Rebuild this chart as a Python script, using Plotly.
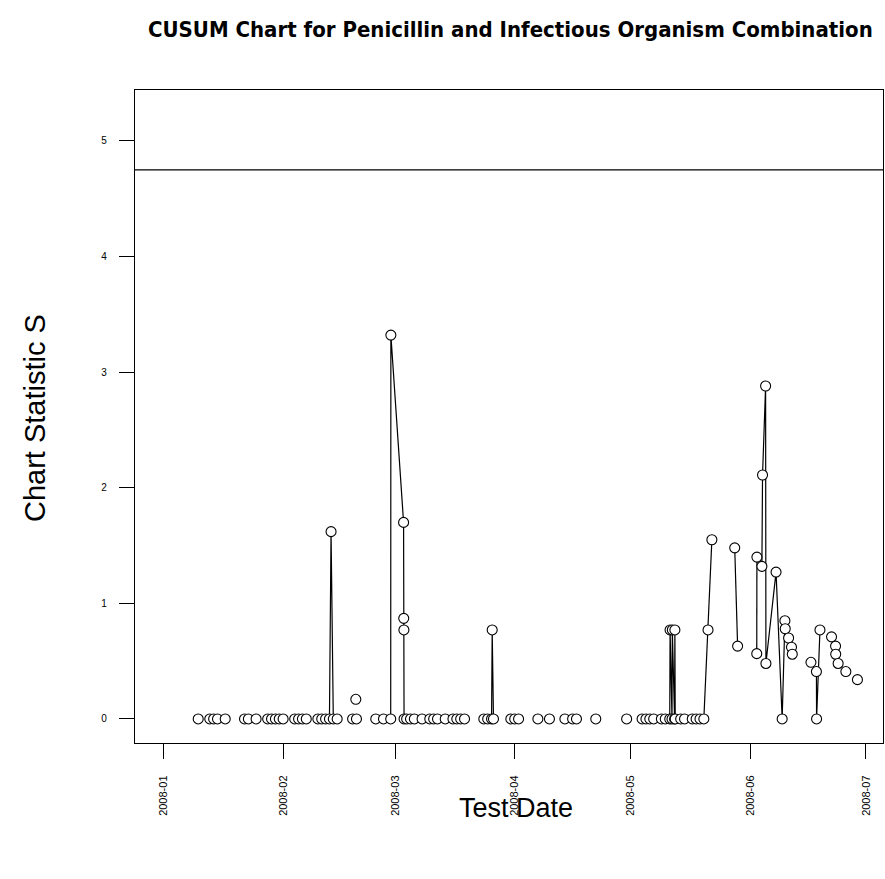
import plotly.graph_objects as go

# ---- data ----
test_dates = [
    "2008-01-10", "2008-01-13", "2008-01-14", "2008-01-15", "2008-01-17",
    "2008-01-22", "2008-01-23", "2008-01-25",
    "2008-01-28", "2008-01-29", "2008-01-30", "2008-01-31", "2008-02-01",
    "2008-02-04", "2008-02-05", "2008-02-06", "2008-02-07",
    "2008-02-10", "2008-02-11", "2008-02-12", "2008-02-13 00:00", "2008-02-13 10:00", "2008-02-14", "2008-02-15",
    "2008-02-19", "2008-02-19 20:00", "2008-02-20",
    "2008-02-25", "2008-02-27", "2008-02-28 21:00", "2008-02-28 22:00",
    "2008-03-03 05:00", "2008-03-03 06:00", "2008-03-03 07:00", "2008-03-03 08:00",
    "2008-03-04", "2008-03-05", "2008-03-06", "2008-03-08",
    "2008-03-10", "2008-03-11", "2008-03-12", "2008-03-14",
    "2008-03-16", "2008-03-17", "2008-03-18", "2008-03-19",
    "2008-03-24", "2008-03-25", "2008-03-26 00:00", "2008-03-26 04:00", "2008-03-26 12:00",
    "2008-03-31", "2008-04-01", "2008-04-02",
    "2008-04-07", "2008-04-10",
    "2008-04-14", "2008-04-16", "2008-04-17",
    "2008-04-22",
    "2008-04-30",
    "2008-05-04", "2008-05-05", "2008-05-06", "2008-05-07", "2008-05-09", "2008-05-10",
    "2008-05-11 04:00", "2008-05-11 06:00", "2008-05-11 18:00", "2008-05-11 20:00",
    "2008-05-12 10:00", "2008-05-12 12:00", "2008-05-12 14:00",
    "2008-05-14", "2008-05-15", "2008-05-17", "2008-05-18", "2008-05-19", "2008-05-20",
    "2008-05-21 02:00", "2008-05-22 02:00",
    "2008-05-28 00:00", "2008-05-28 18:00",
    "2008-06-02 17:00", "2008-06-02 18:00",
    "2008-06-04 01:00", "2008-06-04 05:00", "2008-06-05 00:00", "2008-06-05 02:00",
    "2008-06-07 17:00", "2008-06-09 07:00", "2008-06-10 00:00",
    "2008-06-10 02:00", "2008-06-10 23:00", "2008-06-11 17:00", "2008-06-11 22:00",
    "2008-06-16 18:00", "2008-06-18 04:00", "2008-06-18 05:00", "2008-06-19 02:00",
    "2008-06-22 02:00", "2008-06-23 03:00", "2008-06-23 04:00", "2008-06-23 19:00",
    "2008-06-25 19:00", "2008-06-28 19:00",
]

chart_statistic = [
    0, 0, 0, 0, 0,
    0, 0, 0,
    0, 0, 0, 0, 0,
    0, 0, 0, 0,
    0, 0, 0, 0, 1.62, 0, 0,
    0, 0.17, 0,
    0, 0, 0, 3.32,
    1.70, 0.87, 0.77, 0,
    0, 0, 0, 0,
    0, 0, 0, 0,
    0, 0, 0, 0,
    0, 0, 0, 0.77, 0,
    0, 0, 0,
    0, 0,
    0, 0, 0,
    0,
    0,
    0, 0, 0, 0, 0, 0,
    0, 0.77, 0, 0.77,
    0, 0.77, 0,
    0, 0, 0, 0, 0, 0,
    0.77, 1.55,
    1.48, 0.63,
    0.565, 1.40,
    1.32, 2.11, 2.88, 0.48,
    1.27, 0, 0.85,
    0.78, 0.70, 0.62, 0.56,
    0.49, 0.41, 0, 0.77,
    0.71, 0.63, 0.56, 0.48,
    0.41, 0.34,
]

# connecting-line runs (0 = point not joined by a visible line)
line_run = [
    0, 0, 0, 0, 0,
    0, 0, 0,
    0, 0, 0, 0, 0,
    0, 0, 0, 0,
    0, 0, 0, 1, 1, 1, 0,
    0, 0, 0,
    0, 0, 2, 2,
    2, 2, 2, 2,
    0, 0, 0, 0,
    0, 0, 0, 0,
    0, 0, 0, 0,
    0, 0, 3, 3, 3,
    0, 0, 0,
    0, 0,
    0, 0, 0,
    0,
    0,
    0, 0, 0, 0, 0, 0,
    4, 4, 4, 4,
    4, 4, 4,
    0, 0, 0, 0, 0, 5,
    5, 5,
    6, 6,
    7, 7,
    8, 8, 8, 8,
    8, 8, 8,
    0, 0, 0, 0,
    0, 9, 9, 9,
    0, 0, 0, 0,
    0, 0,
]

threshold = 4.75
y_ticks = [0, 1, 2, 3, 4, 5]
chart_title = "CUSUM Chart for Penicillin and Infectious Organism Combination"
x_title = "Test Date"
y_title = "Chart Statistic S"

# ---- build line segments from runs ----
line_x, line_y = [], []
for run in sorted(set(r for r in line_run if r)):
    for d, v, r in zip(test_dates, chart_statistic, line_run):
        if r == run:
            line_x.append(d)
            line_y.append(v)
    line_x.append(None)
    line_y.append(None)

fig = go.Figure()
fig.add_trace(go.Scatter(
    x=line_x, y=line_y, mode="lines",
    line=dict(color="black", width=1.2), connectgaps=False,
    hoverinfo="skip", showlegend=False,
))
fig.add_trace(go.Scatter(
    x=test_dates, y=chart_statistic, mode="markers",
    marker=dict(symbol="circle", size=10, color="white",
                line=dict(color="black", width=1.1)),
    showlegend=False,
))
fig.add_hline(y=threshold, line=dict(color="black", width=1.2))

y_tick_font = dict(family="Liberation Sans, Arial, sans-serif", size=10, color="black")
x_tick_font = dict(family="Liberation Sans, Arial, sans-serif", size=11, color="black")

fig.update_layout(
    width=885, height=879,
    margin=dict(l=135, r=2, t=90, b=136),
    paper_bgcolor="white", plot_bgcolor="white",
    xaxis=dict(
        type="date",
        range=["2007-12-24 15:00", "2008-07-05 10:00"],
        tick0="2008-01-01", dtick="M1", tickformat="%Y-%m",
        tickangle=-90, ticks="outside", ticklen=15, tickwidth=1, tickcolor="black",
        ticklabelstandoff=12,
        showgrid=False, zeroline=False,
        showline=True, linecolor="black", linewidth=1.2, mirror=True,
        tickfont=x_tick_font,
    ),
    yaxis=dict(
        range=[-0.208, 5.44],
        tickvals=y_ticks, ticktext=[str(v) for v in y_ticks],
        ticks="outside", ticklen=15, tickwidth=1, tickcolor="black",
        ticklabelstandoff=10,
        showgrid=False, zeroline=False,
        showline=True, linecolor="black", linewidth=1.2, mirror=True,
        tickfont=y_tick_font,
    ),
    annotations=[
        dict(text="<b>" + chart_title + "</b>", xref="paper", yref="paper",
             x=(510 - 135) / 748, y=1 + (90 - 30) / 653, xanchor="center", yanchor="middle",
             showarrow=False,
             font=dict(family="Liberation Sans Narrow, DejaVu Sans Condensed, Arial Narrow, sans-serif",
                       size=22, color="black")),
        dict(text=y_title, xref="paper", yref="paper",
             x=(35 - 135) / 748, y=(743 - 418) / 653, xanchor="center", yanchor="middle",
             textangle=-90, showarrow=False,
             font=dict(family="Liberation Sans, Arial, sans-serif", size=29, color="black")),
        dict(text=x_title, xref="paper", yref="paper",
             x=(516 - 135) / 748, y=-(808 - 743) / 653, xanchor="center", yanchor="middle",
             showarrow=False,
             font=dict(family="Liberation Sans, Arial, sans-serif", size=27, color="black")),
    ],
)

fig.write_html("out.html")
